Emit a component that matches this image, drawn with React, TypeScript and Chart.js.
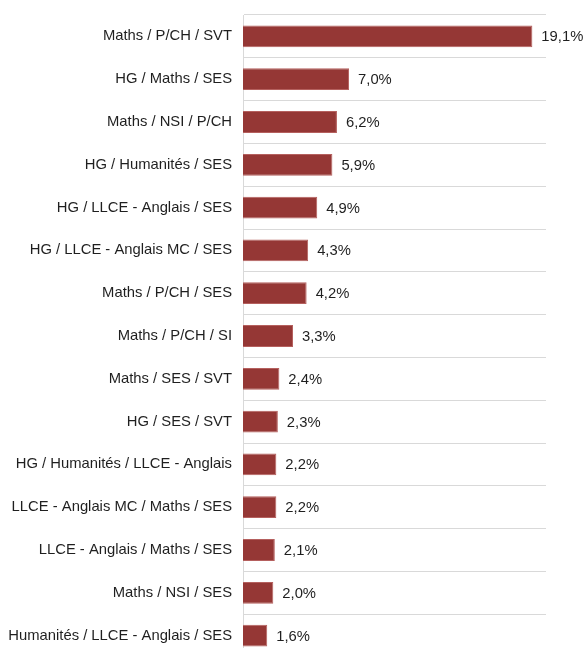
import React, { useEffect, useRef } from "react";
import { Chart, registerables } from "chart.js";

Chart.register(...registerables);

const categories = [
  "Maths / P/CH / SVT",
  "HG / Maths / SES",
  "Maths / NSI / P/CH",
  "HG / Humanités / SES",
  "HG / LLCE - Anglais / SES",
  "HG / LLCE - Anglais MC / SES",
  "Maths / P/CH / SES",
  "Maths / P/CH / SI",
  "Maths / SES / SVT",
  "HG / SES / SVT",
  "HG / Humanités / LLCE - Anglais",
  "LLCE - Anglais MC / Maths / SES",
  "LLCE - Anglais / Maths / SES",
  "Maths / NSI / SES",
  "Humanités / LLCE - Anglais / SES",
];

const values = [19.1, 7.0, 6.2, 5.9, 4.9, 4.3, 4.2, 3.3, 2.4, 2.3, 2.2, 2.2, 2.1, 2.0, 1.6];

const xMin = 0;
const xMax = 20;

const fmt = (v: number) => v.toFixed(1).replace(".", ",") + "%";

const FONT = "'Liberation Sans', Arial, sans-serif";

const labelPlugin = {
  id: "valueLabels",
  afterDatasetsDraw(chart: any) {
    const ctx = chart.ctx;
    const meta = chart.getDatasetMeta(0);
    ctx.save();
    ctx.font = "14.8px " + FONT;
    ctx.fillStyle = "#1f1f1f";
    ctx.textAlign = "left";
    ctx.textBaseline = "middle";
    meta.data.forEach((bar: any, i: number) => {
      ctx.fillText(fmt(values[i]), bar.x + 9, bar.y + 1);
    });
    ctx.restore();
  },
};

export default function App() {
  const ref = useRef<HTMLCanvasElement | null>(null);

  useEffect(() => {
    document.body.style.margin = "0";
    if (!ref.current) return;
    const chart = new Chart(ref.current, {
      type: "bar",
      data: {
        labels: categories,
        datasets: [
          {
            data: values,
            backgroundColor: "#953735",
            borderColor: "#b5605e",
            borderWidth: 1,
            barPercentage: 0.51,
            categoryPercentage: 1,
          },
        ],
      },
      options: {
        indexAxis: "y",
        responsive: false,
        animation: false,
        layout: { padding: { top: 15, right: 38, bottom: 3, left: 0 } },
        plugins: {
          legend: { display: false },
          tooltip: { enabled: false },
        },
        scales: {
          x: { display: false, min: xMin, max: xMax },
          y: {
            afterFit: (s: any) => {
              s.width = 243;
              s.paddingTop = 0;
              s.paddingBottom = 0;
            },
            grid: {
              color: "#d9d9d9",
              drawTicks: false,
              offset: true,
            },
            border: { color: "#d9d9d9", width: 1 },
            ticks: {
              padding: 11,
              color: "#1f1f1f",
              font: { family: FONT, size: 14.8 },
            },
          },
        },
      },
      plugins: [labelPlugin],
    });
    return () => chart.destroy();
  }, []);

  return <canvas ref={ref} width={584} height={660} style={{ display: "block" }} />;
}
